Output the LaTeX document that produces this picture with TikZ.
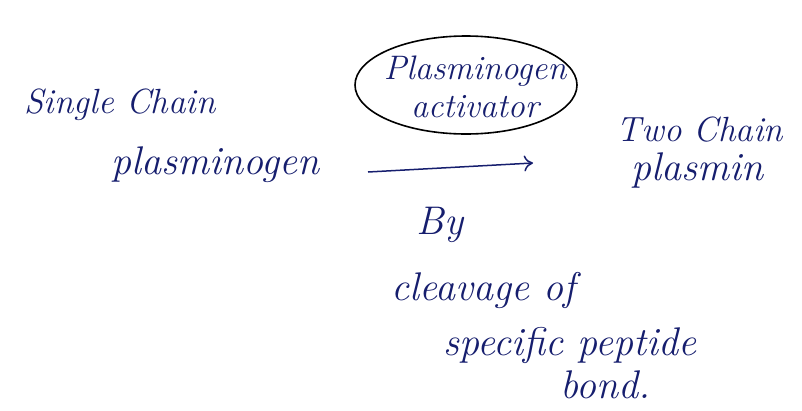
\documentclass[tikz,border=0pt]{standalone}
\usepackage{tikz}
\usetikzlibrary{arrows}
\usetikzlibrary{arrows.meta}
\definecolor{ink}{RGB}{22,30,110}

\begin{document}
\begin{tikzpicture}[
    x=1pt, y=-1pt,
    hand/.style={color=ink, font=\fontsize{40}{44}\selectfont\itshape, inner sep=0pt},
    small hand/.style={hand, font=\fontsize{35}{40}\selectfont\itshape},
    enzyme/.style={hand, font=\fontsize{34}{36}\selectfont\itshape, align=center},
    ring/.style={draw=black, line width=1.6pt},
    reaction/.style={-{To[length=9pt,width=16pt]}, line width=1.5pt, color=ink}
    ]

    \useasboundingbox (0,0) rectangle (802,410);
    % substrate
    \node[small hand] (single) at (120,105) {Single Chain};
    \node[hand] (plg) at (215,165) {plasminogen};
    % enzyme
    \node[enzyme] (act) at (475,87) {Plasminogen\\[2pt]activator};
    \draw[ring] (466,85) ellipse [x radius=111, y radius=49];
    % reaction arrow
    \coordinate (start) at (368,172);
    \coordinate (end) at (533,163);
    \draw[reaction] (start) -- (end);
    % product
    \node[small hand] (two) at (700,130) {Two Chain};
    \node[hand] (plm) at (697,170) {plasmin};
    % mechanism
    \node[hand] (by) at (440,225) {By};
    \node[hand] (cleave) at (483,290) {cleavage of};
    \node[hand] (peptide) at (570,345) {specific peptide};
    \node[hand] (bond) at (605,385) {bond.};
\end{tikzpicture}
\end{document}
